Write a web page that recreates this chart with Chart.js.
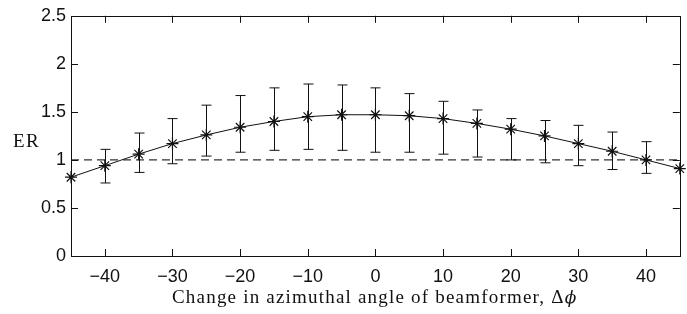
<!DOCTYPE html>
<html>
<head>
<meta charset="utf-8">
<script src="https://cdn.jsdelivr.net/npm/chart.js@4/dist/chart.umd.min.js"></script>
<style>
  html, body { margin: 0; padding: 0; background: #fff; }
  #wrap { width: 687px; height: 314px; }
</style>
</head>
<body>
<div id="wrap"><canvas id="erChart" width="687" height="314"></canvas></div>
<script>
const angles = [-45, -40, -35, -30, -25, -20, -15, -10, -5, 0, 5, 10, 15, 20, 25, 30, 35, 40, 45];
const erMean = [0.82, 0.94, 1.06, 1.17, 1.26, 1.34, 1.40, 1.45, 1.47, 1.47, 1.46, 1.43, 1.38, 1.32, 1.25, 1.17, 1.09, 1.00, 0.91];
const erUpper = [null, 1.11, 1.28, 1.43, 1.57, 1.67, 1.75, 1.79, 1.78, 1.75, 1.69, 1.61, 1.52, 1.43, 1.41, 1.36, 1.29, 1.19, null];
const erLower = [null, 0.76, 0.87, 0.96, 1.04, 1.08, 1.10, 1.11, 1.10, 1.08, 1.08, 1.06, 1.03, 1.00, 0.97, 0.94, 0.90, 0.86, null];
const refLevel = [1, 1];
const refX = [-45, 45];
const xTicks = [-40, -30, -20, -10, 0, 10, 20, 30, 40];
const yTicks = [0, 0.5, 1, 1.5, 2, 2.5];

const ink = "#111";
const tickFont = { family: "'Liberation Sans', Arial", size: 18 };

// error bars, box frame, inward ticks and axis titles
const decor = {
  id: "decor",
  afterDatasetsDraw(c) {
    const ctx = c.ctx, a = c.chartArea;
    const xs = c.scales.x, ys = c.scales.y;
    ctx.save();
    ctx.strokeStyle = ink;
    ctx.lineWidth = 1;

    // error bars
    angles.forEach((ang, i) => {
      if (erUpper[i] == null) return;
      const px = Math.round(xs.getPixelForValue(ang)) + 0.5;
      const top = ys.getPixelForValue(erUpper[i]);
      const bot = ys.getPixelForValue(erLower[i]);
      ctx.beginPath();
      ctx.moveTo(px, top); ctx.lineTo(px, bot);
      ctx.moveTo(px - 5, top); ctx.lineTo(px + 5, top);
      ctx.moveTo(px - 5, bot); ctx.lineTo(px + 5, bot);
      ctx.stroke();
    });

    // frame
    ctx.strokeRect(Math.round(a.left) + 0.5, Math.round(a.top) + 0.5,
      Math.round(a.right - a.left), Math.round(a.bottom - a.top));

    // inward ticks
    ctx.beginPath();
    xTicks.forEach(v => {
      const px = Math.round(xs.getPixelForValue(v)) + 0.5;
      ctx.moveTo(px, a.bottom); ctx.lineTo(px, a.bottom - 7);
      ctx.moveTo(px, a.top); ctx.lineTo(px, a.top + 7);
    });
    yTicks.forEach(v => {
      const py = Math.round(ys.getPixelForValue(v)) + 0.5;
      ctx.moveTo(a.left, py); ctx.lineTo(a.left + 7, py);
      ctx.moveTo(a.right, py); ctx.lineTo(a.right - 7, py);
    });
    ctx.stroke();

    // axis titles
    ctx.fillStyle = ink;
    ctx.textBaseline = "alphabetic";
    ctx.textAlign = "left";
    ctx.letterSpacing = "1.2px";
    const main = "Change in azimuthal angle of beamformer, \u0394";
    ctx.font = "19px 'Liberation Serif', serif";
    const w1 = ctx.measureText(main).width;
    ctx.font = "italic 19px 'DejaVu Serif', serif";
    const w2 = ctx.measureText("\u03d5").width;
    const cx = (a.left + a.right) / 2;
    const sx = cx - (w1 + w2) / 2;
    ctx.font = "19px 'Liberation Serif', serif";
    ctx.fillText(main, sx, 303);
    ctx.font = "italic 17px 'DejaVu Serif', serif";
    ctx.fillText("\u03d5", sx + w1, 303);

    ctx.letterSpacing = "1.5px";
    ctx.font = "19px 'Liberation Serif', serif";
    ctx.fillText("ER", 13, 147);
    ctx.restore();
  }
};

new Chart(document.getElementById("erChart"), {
  type: "scatter",
  data: {
    datasets: [
      {
        label: "ER",
        data: angles.map((x, i) => ({ x: x, y: erMean[i] })),
        showLine: true,
        borderColor: ink,
        borderWidth: 1,
        tension: 0,
        pointStyle: "star",
        pointRadius: 6,
        pointBorderColor: ink,
        pointBorderWidth: 1.2,
        pointBackgroundColor: ink,
        clip: false
      },
      {
        label: "ref",
        data: refX.map((x, i) => ({ x: x, y: refLevel[i] })),
        showLine: true,
        borderColor: "#333",
        borderWidth: 1.2,
        borderDash: [8, 5],
        pointRadius: 0
      }
    ]
  },
  options: {
    responsive: false,
    animation: false,
    layout: { padding: { left: 0, right: 7, top: 15, bottom: 0 } },
    plugins: { legend: { display: false }, tooltip: { enabled: false } },
    scales: {
      x: {
        type: "linear",
        min: -45,
        max: 45,
        afterBuildTicks: s => { s.ticks = xTicks.map(v => ({ value: v })); },
        afterFit: s => { s.height = 58; },
        grid: { display: false, drawTicks: false },
        border: { display: false },
        ticks: {
          color: ink,
          font: tickFont,
          padding: 10,
          maxRotation: 0,
          callback: v => (v < 0 ? "\u2212" + Math.abs(v) : String(v))
        }
      },
      y: {
        type: "linear",
        min: 0,
        max: 2.5,
        afterBuildTicks: s => { s.ticks = yTicks.map(v => ({ value: v })); },
        afterFit: s => { s.width = 71; },
        grid: { display: false, drawTicks: false },
        border: { display: false },
        ticks: {
          color: ink,
          font: tickFont,
          padding: 5,
          callback: v => String(v)
        }
      }
    }
  },
  plugins: [decor]
});
</script>
</body>
</html>
